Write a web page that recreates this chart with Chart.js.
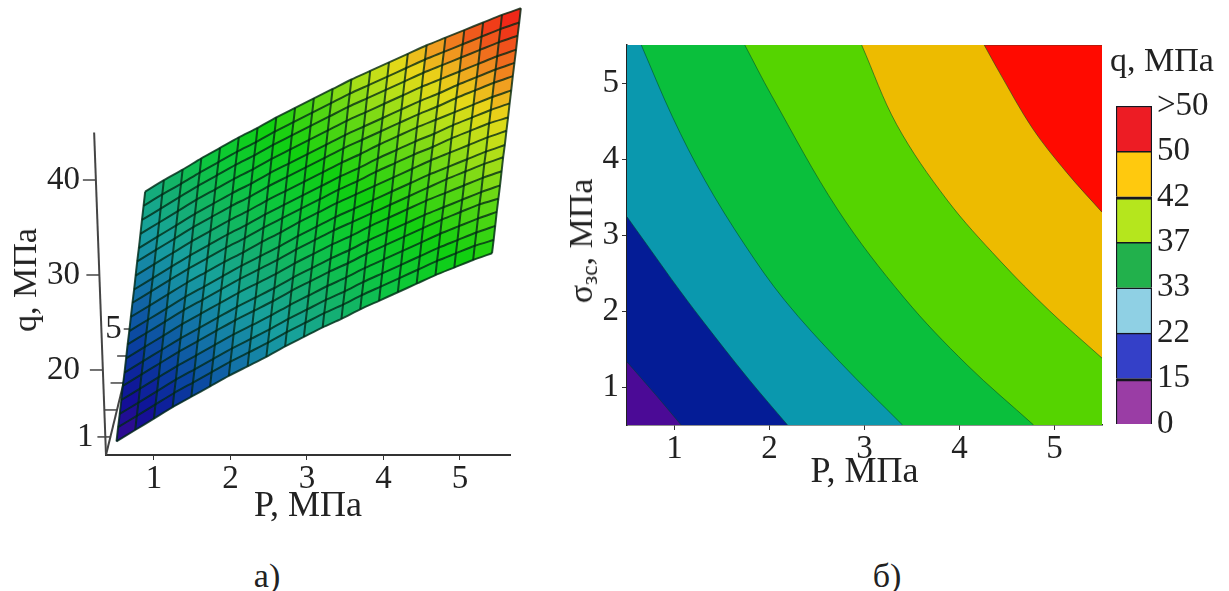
<!DOCTYPE html>
<html lang="ru">
<head>
<meta charset="utf-8">
<title>q, МПа</title>
<style>
    html, body { margin: 0; padding: 0; background: #fff; overflow: hidden; }
    body { width: 1229px; height: 591px; position: relative; }
    canvas { position: absolute; }
    .txt {
        position: absolute;
        font-family: "Liberation Serif", serif;
        font-size: 34px;
        line-height: 1;
        color: #222;
        white-space: nowrap;
        transform: translate(-50%, -50%);
    }
    .rot { transform: translate(-50%, -50%) rotate(-90deg); }
    .txt span { font-size: 23px; position: relative; top: 5px; }
</style>
</head>
<body>
<canvas id="surface" width="540" height="528" style="left:0;top:0"></canvas>
<canvas id="contour" width="570" height="494" style="left:540px;top:0"></canvas>
<canvas id="bar" width="129" height="350" style="left:1100px;top:90px"></canvas>

<div class="txt rot" style="left:25px;top:280px">q, МПа</div>
<div class="txt rot" style="left:581px;top:241px">σ<span>зс</span>, МПа</div>
<div class="txt" style="left:1162px;top:60px">q, МПа</div>
<div class="txt" style="left:267px;top:576px">а)</div>
<div class="txt" style="left:887px;top:576px">б)</div>

<script src="https://cdnjs.cloudflare.com/ajax/libs/Chart.js/4.4.1/chart.umd.min.js"></script>
<script>
const FONT = 'Liberation Serif';
const INK = '#222';

// a) surface: q (MPa), rows = sigma, columns = P
const surfaceP = [0.5, 0.75, 1, 1.25, 1.5, 1.75, 2, 2.25, 2.5, 2.75, 3, 3.25, 3.5, 3.75, 4, 4.25, 4.5, 4.75, 5, 5.25, 5.5];
const surfaceS = [0.5, 0.78, 1.06, 1.33, 1.61, 1.89, 2.17, 2.44, 2.72, 3, 3.28, 3.56, 3.83, 4.11, 4.39, 4.67, 4.94, 5.22, 5.5];
const surfaceQ = [
    [12.0, 13.2, 14.4, 15.6, 16.7, 17.8, 18.9, 19.9, 20.9, 22.0, 23.0, 24.0, 24.9, 25.9, 26.8, 27.7, 28.6, 29.5, 30.3, 31.1, 31.8],
    [12.7, 13.9, 15.1, 16.3, 17.4, 18.5, 19.6, 20.6, 21.6, 22.7, 23.7, 24.7, 25.6, 26.6, 27.5, 28.4, 29.3, 30.2, 31.0, 31.8, 32.4],
    [13.3, 14.5, 15.7, 16.9, 18.0, 19.1, 20.2, 21.2, 22.2, 23.3, 24.3, 25.3, 26.2, 27.2, 28.1, 29.0, 29.9, 30.8, 31.6, 32.4, 33.1],
    [14.0, 15.2, 16.4, 17.6, 18.7, 19.8, 20.9, 21.9, 22.9, 24.0, 25.0, 26.0, 26.9, 27.9, 28.8, 29.7, 30.6, 31.5, 32.3, 33.1, 33.8],
    [14.7, 15.9, 17.1, 18.3, 19.4, 20.5, 21.6, 22.6, 23.6, 24.7, 25.7, 26.7, 27.6, 28.6, 29.5, 30.4, 31.3, 32.2, 33.0, 33.8, 34.4],
    [15.3, 16.5, 17.7, 18.9, 20.0, 21.1, 22.2, 23.2, 24.2, 25.3, 26.3, 27.3, 28.2, 29.2, 30.1, 31.0, 31.9, 32.7, 33.5, 34.3, 35.0],
    [16.0, 17.2, 18.4, 19.6, 20.7, 21.8, 22.9, 23.9, 24.9, 26.0, 27.0, 28.0, 28.9, 29.9, 30.8, 31.7, 32.6, 33.4, 34.2, 35.0, 35.7],
    [16.7, 17.9, 19.1, 20.3, 21.4, 22.5, 23.6, 24.6, 25.6, 26.7, 27.7, 28.7, 29.6, 30.5, 31.4, 32.3, 33.2, 34.1, 34.9, 35.7, 36.4],
    [17.3, 18.5, 19.7, 20.9, 22.0, 23.1, 24.2, 25.2, 26.2, 27.3, 28.3, 29.3, 30.2, 31.1, 32.0, 32.9, 33.8, 34.6, 35.4, 36.2, 36.9],
    [18.0, 19.2, 20.4, 21.6, 22.7, 23.8, 24.8, 25.9, 26.9, 28.0, 29.0, 30.0, 30.9, 31.8, 32.7, 33.6, 34.5, 35.3, 36.1, 36.9, 37.6],
    [18.7, 19.9, 21.1, 22.3, 23.4, 24.5, 25.5, 26.6, 27.6, 28.6, 29.6, 30.6, 31.5, 32.5, 33.4, 34.3, 35.1, 36.0, 36.8, 37.6, 38.2],
    [19.3, 20.5, 21.7, 22.9, 24.0, 25.1, 26.1, 27.2, 28.2, 29.2, 30.2, 31.2, 32.1, 33.1, 34.0, 34.9, 35.7, 36.6, 37.4, 38.2, 38.9],
    [20.0, 21.2, 22.4, 23.6, 24.7, 25.8, 26.8, 27.9, 28.9, 29.9, 30.9, 31.9, 32.8, 33.8, 34.7, 35.6, 36.4, 37.2, 38.0, 38.8, 39.5],
    [20.7, 21.9, 23.1, 24.3, 25.4, 26.5, 27.5, 28.6, 29.6, 30.6, 31.6, 32.6, 33.5, 34.4, 35.3, 36.2, 37.0, 37.9, 38.7, 39.5, 40.2],
    [21.3, 22.5, 23.7, 24.9, 26.0, 27.1, 28.1, 29.2, 30.2, 31.2, 32.2, 33.2, 34.1, 35.0, 35.9, 36.8, 37.6, 38.5, 39.3, 40.1, 40.8],
    [22.0, 23.2, 24.4, 25.6, 26.7, 27.8, 28.8, 29.9, 30.9, 31.9, 32.9, 33.9, 34.8, 35.7, 36.6, 37.5, 38.3, 39.1, 39.9, 40.7, 41.4],
    [22.7, 23.9, 25.1, 26.3, 27.4, 28.5, 29.5, 30.6, 31.6, 32.6, 33.6, 34.6, 35.5, 36.4, 37.3, 38.2, 39.0, 39.8, 40.6, 41.4, 42.1],
    [23.4, 24.6, 25.7, 26.9, 28.0, 29.1, 30.1, 31.2, 32.2, 33.2, 34.2, 35.2, 36.1, 37.0, 37.9, 38.8, 39.6, 40.4, 41.2, 42.0, 42.7],
    [24.1, 25.3, 26.4, 27.6, 28.7, 29.8, 30.8, 31.9, 32.9, 33.9, 34.9, 35.9, 36.8, 37.7, 38.6, 39.5, 40.3, 41.1, 41.9, 42.7, 43.4]
];
const surfacePTicks = [1, 2, 3, 4, 5];
const surfaceQTicks = [20, 30, 40];
const surfaceSTicks = [1, 2, 3, 4, 5];
const surfaceSLabels = [1, 5];

// б) contour lines, P and sigma pairs
const line15P = [0.5, 0.8, 1.07];
const line15S = [1.33, 0.9, 0.5];
const line22P = [0.5, 0.74, 1.05, 1.39, 1.79, 2.19];
const line22S = [3.24, 2.82, 2.28, 1.72, 1.09, 0.5];
const line33P = [0.65, 0.98, 1.32, 1.74, 2.16, 2.74, 3.4];
const line33S = [5.5, 4.55, 3.72, 2.87, 2.14, 1.33, 0.5];
const line37P = [1.74, 2.02, 2.72, 3.42, 4.08, 4.78];
const line37S = [5.5, 4.84, 3.33, 2.17, 1.29, 0.5];
const line42P = [2.97, 3.34, 3.87, 4.42, 4.95, 5.5];
const line42S = [5.5, 4.45, 3.46, 2.67, 2.0, 1.38];
const line50P = [4.26, 4.42, 4.77, 5.13, 5.5];
const line50S = [5.5, 5.14, 4.4, 3.82, 3.3];
const contourTicks = [1, 2, 3, 4, 5];

// colour bar
const barLabels = ['0', '15', '22', '33', '37', '42', '50', '>50'];
const barColors = ['#9A3DA5', '#3440C8', '#8FD0E4', '#22B14C', '#B5E61D', '#FFC90E', '#ED1C24'];
const barHeights = [1, 1, 1, 1, 1, 1, 1];

// oblique view of the 3D box: P and q stay on the chart scales, sigma shifts both
const P0 = 0.373, S0 = 0.33, Q0 = 11.05;
function project(p, s, q) {
    return { x: p + 0.086 * (s - S0) - 0.00457 * (q - Q0), y: q + 2.84 * (s - S0) };
}

const ramp = [
    [12, 60, 10, 140], [14.5, 16, 16, 152], [17, 10, 64, 160], [20, 20, 120, 168],
    [22.5, 24, 160, 160], [25, 20, 176, 112], [28, 12, 200, 60], [31, 16, 208, 16],
    [34, 96, 216, 20], [36.5, 184, 224, 24], [38, 232, 216, 24], [39.5, 240, 160, 32],
    [41, 240, 96, 28], [42.5, 240, 40, 24]
];
function rampColor(q) {
    let i = 0;
    while (i < ramp.length - 2 && q > ramp[i + 1][0]) i++;
    const a = ramp[i], b = ramp[i + 1];
    const t = Math.min(1, Math.max(0, (q - a[0]) / (b[0] - a[0])));
    const c = [1, 2, 3].map(k => Math.round(a[k] + (b[k] - a[k]) * t));
    return 'rgb(' + c.join(',') + ')';
}

function lineSet(data, color, width, order, tension) {
    return { data, borderColor: color, borderWidth: width, pointRadius: 0, showLine: true, clip: false, order, tension: tension || 0 };
}

const surfaceSets = [];
// sigma axis goes behind the surface
surfaceSets.push(lineSet([S0, 5.5].map(s => project(P0, s, Q0)), '#444', 2, 5));
surfaceSTicks.forEach(s => {
    const a = project(P0, s, Q0);
    surfaceSets.push(lineSet([a, { x: a.x - 0.17, y: a.y }], '#444', 1.5, 5));
});
surfaceSets.push({ data: [], isSurface: true, order: 3 });
// mesh, listed right to left: a line sorted by x loses its points past the x scale maximum
const meshColor = 'rgba(0,40,20,0.78)';
surfaceS.forEach((s, j) => {
    surfaceSets.push(lineSet(surfaceP.map((p, i) => project(p, s, surfaceQ[j][i])).reverse(), meshColor, 2, 2, 0.25));
});
surfaceP.forEach((p, i) => {
    surfaceSets.push(lineSet(surfaceS.map((s, j) => project(p, s, surfaceQ[j][i])).reverse(), meshColor, 2, 2, 0.25));
});
// q axis
surfaceSets.push(lineSet([Q0, 45].map(q => project(P0, S0, q)), '#444', 2, 1));
surfaceQTicks.forEach(q => {
    const a = project(P0, S0, q);
    surfaceSets.push(lineSet([a, { x: a.x - 0.17, y: a.y }], '#444', 1.5, 1));
});

const surfacePlugin = {
    id: 'surfaceCells',
    beforeDatasetDraw(chart, args) {
        if (!chart.data.datasets[args.index].isSurface) return;
        const { ctx, scales } = chart;
        const px = pt => [scales.x.getPixelForValue(pt.x), scales.y.getPixelForValue(pt.y)];
        for (let j = 0; j < surfaceS.length - 1; j++) {
            for (let i = 0; i < surfaceP.length - 1; i++) {
                const corners = [[i, j], [i + 1, j], [i + 1, j + 1], [i, j + 1]]
                    .map(c => px(project(surfaceP[c[0]], surfaceS[c[1]], surfaceQ[c[1]][c[0]])));
                const q = (surfaceQ[j][i] + surfaceQ[j][i + 1] + surfaceQ[j + 1][i] + surfaceQ[j + 1][i + 1]) / 4;
                ctx.beginPath();
                corners.forEach((c, k) => k ? ctx.lineTo(c[0], c[1]) : ctx.moveTo(c[0], c[1]));
                ctx.closePath();
                ctx.fillStyle = ctx.strokeStyle = rampColor(q);
                ctx.lineWidth = 0.5;
                ctx.fill();
                ctx.stroke();
            }
        }
    },
    afterDatasetsDraw(chart) {
        // the two sigma labels that show beside the surface
        const { ctx, scales } = chart;
        ctx.save();
        ctx.font = '33px "' + FONT + '"';
        ctx.fillStyle = INK;
        ctx.textAlign = 'right';
        ctx.textBaseline = 'middle';
        surfaceSLabels.forEach(s => {
            const a = project(P0, s, Q0);
            const x = scales.x.getPixelForValue(a.x) - (s === 1 ? 17 : 15);
            ctx.fillText(String(s), x, scales.y.getPixelForValue(a.y));
        });
        ctx.restore();
    }
};

// no room kept for half a tick label, the plot box is placed by hand
function noPad(s) {
    s.paddingTop = 0;
    s.paddingBottom = 0;
}

new Chart(document.getElementById('surface'), {
    type: 'scatter',
    data: { datasets: surfaceSets },
    options: {
        responsive: false,
        animation: false,
        layout: { padding: { right: 30 } },
        plugins: { legend: { display: false }, tooltip: { enabled: false } },
        scales: {
            x: {
                type: 'linear', min: P0, max: 5.655,
                afterFit: s => { s.height = 73; },
                afterBuildTicks: s => { s.ticks = surfacePTicks.map(value => ({ value })); },
                border: { color: '#333', width: 2 },
                grid: { drawOnChartArea: false, tickLength: 5, color: '#333' },
                ticks: { color: INK, font: { family: FONT, size: 33 }, padding: 0, maxRotation: 0 },
                title: { display: true, text: 'P, МПа', color: INK, font: { family: FONT, size: 36 }, padding: 0 }
            },
            y: {
                type: 'linear', min: Q0, max: 58.95,
                afterFit: s => { s.width = 106; noPad(s); },
                afterBuildTicks: s => { s.ticks = surfaceQTicks.map(value => ({ value })); },
                border: { display: false },
                grid: { display: false, drawTicks: false, tickLength: 0 },
                ticks: { color: INK, font: { family: FONT, size: 33 }, padding: 26 }
            }
        }
    },
    plugins: [surfacePlugin]
});

// contour map: every band is painted as everything below its upper line
function band(ps, ss, color, order, fromEdge) {
    const data = ps.map((p, i) => ({ x: p, y: ss[i] }));
    if (fromEdge) {
        // carry the line on above the plot box, where it is clipped, then back past the left edge
        const a = data[0], b = data[1];
        data.unshift({ x: 0.2, y: 9 }, { x: a.x - (b.x - a.x) * 0.4, y: a.y - (b.y - a.y) * 0.4 });
    }
    return {
        data, showLine: true, pointRadius: 0, tension: 0.35, fill: 'start',
        backgroundColor: color, borderColor: 'rgba(0,70,40,0.55)', borderWidth: 1, order
    };
}

new Chart(document.getElementById('contour'), {
    type: 'scatter',
    data: {
        datasets: [
            band([0.5, 5.5], [5.5, 5.5], '#FF0A00', 7, false),
            band(line50P, line50S, '#EDBB00', 6, true),
            band(line42P, line42S, '#55D400', 5, true),
            band(line37P, line37S, '#0ABF3C', 4, true),
            band(line33P, line33S, '#0A98AE', 3, true),
            band(line22P, line22S, '#041C96', 2, false),
            band(line15P, line15S, '#4B0A96', 1, false)
        ]
    },
    options: {
        responsive: false,
        animation: false,
        layout: { padding: { top: 45, right: 8 } },
        plugins: { legend: { display: false }, tooltip: { enabled: false } },
        scales: {
            x: {
                type: 'linear', min: 0.5, max: 5.5, z: 1,
                afterFit: s => { s.height = 69; },
                afterBuildTicks: s => { s.ticks = contourTicks.map(value => ({ value })); },
                border: { color: '#222', width: 1.5 },
                grid: { drawOnChartArea: false, tickLength: 5, color: '#333' },
                ticks: { color: INK, font: { family: FONT, size: 33 }, padding: 0, maxRotation: 0 },
                title: { display: true, text: 'P, МПа', color: INK, font: { family: FONT, size: 36 }, padding: 0 }
            },
            y: {
                type: 'linear', min: 0.5, max: 5.5, z: 1,
                afterFit: s => { s.width = 87; noPad(s); },
                afterBuildTicks: s => { s.ticks = contourTicks.map(value => ({ value })); },
                border: { color: '#222', width: 1.5 },
                grid: { drawOnChartArea: false, tickLength: 5, color: '#333' },
                ticks: { color: INK, font: { family: FONT, size: 33 }, padding: 3 }
            }
        }
    }
});

new Chart(document.getElementById('bar'), {
    type: 'bar',
    data: {
        labels: ['q'],
        datasets: barColors.map((c, i) => ({
            data: [barHeights[i]], backgroundColor: c, borderColor: '#15151f',
            // the 15 and 42 separators are heavier in the picture
            borderWidth: (i === 0 || i === 4) ? { top: 3, left: 1.5, right: 1.5, bottom: 1.5 } : 1.5,
            barPercentage: 1, categoryPercentage: 1
        }))
    },
    options: {
        responsive: false,
        animation: false,
        layout: { padding: { left: 16, top: 16, bottom: 16 } },
        plugins: { legend: { display: false }, tooltip: { enabled: false } },
        scales: {
            x: { stacked: true, display: false },
            y: {
                stacked: true, position: 'right', min: 0, max: 7,
                afterFit: s => { s.width = 77; noPad(s); },
                afterBuildTicks: s => { s.ticks = barLabels.map((t, value) => ({ value })); },
                border: { display: false },
                grid: { display: false, drawTicks: false, tickLength: 0 },
                ticks: {
                    color: INK, font: { family: FONT, size: 33 }, padding: 5,
                    callback: v => barLabels[v]
                }
            }
        }
    }
});
</script>
</body>
</html>
